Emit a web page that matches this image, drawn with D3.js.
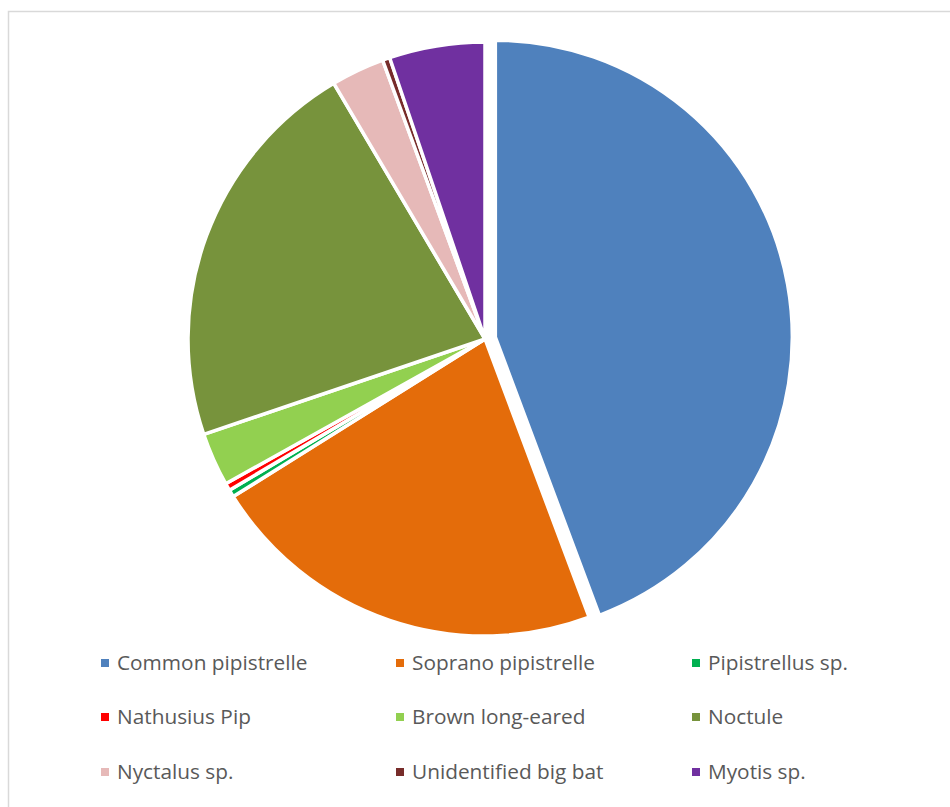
<!DOCTYPE html>
<html><head><meta charset="utf-8">
<script src="https://cdn.jsdelivr.net/npm/d3@7"></script>
<style>body{margin:0;background:#fff;} svg{display:block;}</style>
</head><body>
<svg id="chart" width="950" height="807"></svg>
<script>
const categories = ["Common pipistrelle","Soprano pipistrelle","Pipistrellus sp.","Nathusius Pip","Brown long-eared","Noctule","Nyctalus sp.","Unidentified big bat","Myotis sp."];
const values = [443, 218, 4, 4, 29, 217, 29, 4, 52];
const colors = ["#4F81BD","#E46C0A","#00B050","#FF0000","#92D050","#77933C","#E6B9B8","#772C2A","#7030A0"];
const explodedIndex = 0;

const svg = d3.select("#chart");
svg.append("rect").attr("x",8.5).attr("y",11.5).attr("width",1000).attr("height",900)
  .attr("fill","#fff").attr("stroke","#D9D9D9").attr("stroke-width",1.5);

const cx = 485, cy = 339, r = 297, explode = 10.5;
const pie = d3.pie().sort(null).value(d => d)(values);
const arc = d3.arc().innerRadius(0).outerRadius(r);

const g = svg.append("g").attr("transform",`translate(${cx},${cy})`);
g.selectAll("path").data(pie).join("path")
  .attr("d", arc)
  .attr("fill", (d,i) => colors[i])
  .attr("stroke","#fff").attr("stroke-width",3.5).attr("stroke-linejoin","round")
  .attr("transform",(d,i) => {
    if (i !== explodedIndex) return null;
    const a = (d.startAngle + d.endAngle)/2;
    return `translate(${explode*Math.sin(a)},${-explode*Math.cos(a)})`;
  });

const colX = [101, 396, 692];
const rowY = [663, 717, 772];
const leg = svg.append("g");
categories.forEach((c,i) => {
  const x = colX[i%3], y = rowY[Math.floor(i/3)];
  leg.append("rect").attr("x",x).attr("y",y-4).attr("width",8).attr("height",8).attr("fill",colors[i]);
  leg.append("text").attr("x",x+16).attr("y",y).attr("dy","0.35em")
    .attr("font-family","'Open Sans', sans-serif").attr("font-size",20.8).attr("fill","#595959").text(c);
});
</script>
</body></html>
